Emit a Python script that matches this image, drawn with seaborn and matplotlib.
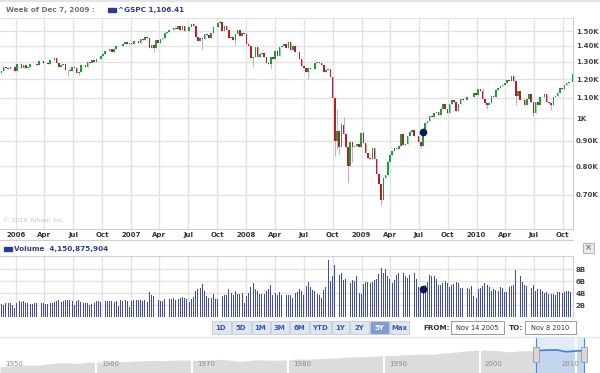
import numpy as np
import pandas as pd
import matplotlib
matplotlib.use("Agg")
import matplotlib.pyplot as plt
import matplotlib.dates as mdates
from matplotlib.patches import Rectangle
from matplotlib.ticker import FixedLocator, NullLocator, FixedFormatter
import seaborn as sns

sns.set_style("white")
plt.rcParams['font.family'] = ['DejaVu Sans']

# weekly closes of ^GSPC, week of Nov 14 2005 .. week of Nov 8 2010
close_2005 = [1248, 1268, 1265, 1259, 1267, 1268, 1248]
close_2006 = [1285, 1288, 1261, 1284, 1264, 1267, 1287, 1289, 1287, 1281, 1307, 1303, 1295,
              1296, 1289, 1311, 1311, 1326, 1291, 1267, 1280, 1288, 1252, 1252, 1245, 1270,
              1265, 1236, 1240, 1279, 1279, 1267, 1302, 1295, 1311, 1299, 1320, 1315, 1336,
              1350, 1366, 1369, 1377, 1364, 1381, 1401, 1401, 1397, 1410, 1427, 1411, 1418]
close_2007 = [1410, 1431, 1431, 1422, 1448, 1438, 1456, 1451, 1387, 1403, 1387, 1436, 1421,
              1444, 1453, 1484, 1494, 1506, 1506, 1523, 1516, 1536, 1508, 1533, 1503, 1503,
              1530, 1553, 1534, 1459, 1433, 1454, 1446, 1479, 1474, 1454, 1484, 1526, 1527,
              1558, 1562, 1501, 1535, 1510, 1454, 1459, 1441, 1481, 1505, 1468, 1484, 1478, 1412]
close_2008 = [1401, 1325, 1331, 1395, 1331, 1350, 1353, 1331, 1293, 1288, 1330, 1315, 1370,
              1333, 1390, 1398, 1414, 1388, 1425, 1376, 1400, 1361, 1360, 1318, 1278, 1263,
              1239, 1261, 1258, 1260, 1296, 1298, 1292, 1283, 1242, 1252, 1255, 1213, 1099,
              899, 941, 877, 969, 931, 873, 800, 896, 876, 880, 888, 873, 932]
close_2009 = [890, 850, 832, 826, 869, 827, 770, 735, 683, 757, 769, 816, 843,
              857, 870, 866, 878, 929, 883, 887, 919, 940, 946, 921, 919, 896,
              879, 940, 979, 987, 1010, 1004, 1026, 1029, 1016, 1043, 1068, 1044, 1025,
              1071, 1088, 1080, 1036, 1069, 1093, 1091, 1091, 1106, 1106, 1102, 1126, 1115]
close_2010 = [1145, 1136, 1092, 1074, 1066, 1076, 1109, 1104, 1139, 1150, 1160, 1167, 1178,
              1194, 1192, 1217, 1187, 1111, 1136, 1088, 1089, 1065, 1092, 1118, 1077, 1023,
              1078, 1065, 1103, 1102, 1122, 1079, 1072, 1065, 1105, 1110, 1126, 1149, 1146,
              1165, 1176, 1183, 1183, 1226, 1223]
first_open = 1235

# average daily volume per week, billions
vol_2005 = [2.2, 2.0, 2.4, 2.3, 2.4, 2.0, 1.5]
vol_2006 = [2.3, 2.6, 2.5, 2.6, 2.4, 2.3, 2.2, 2.2, 2.4, 2.3, 2.5, 2.4, 2.3,
            2.2, 2.1, 2.4, 2.4, 2.5, 2.7, 2.8, 2.5, 2.6, 2.8, 2.9, 2.8, 2.6,
            2.0, 2.6, 2.8, 2.5, 2.4, 2.3, 2.3, 2.0, 2.1, 2.3, 2.6, 2.6, 2.5,
            2.6, 2.6, 2.7, 2.6, 2.6, 2.5, 2.7, 1.8, 2.8, 2.7, 2.9, 2.6, 1.6]
vol_2007 = [2.6, 2.9, 2.8, 2.8, 2.9, 2.7, 2.8, 2.5, 4.1, 3.7, 3.5, 3.3, 2.8,
            2.6, 2.7, 3.0, 3.0, 3.0, 3.0, 3.1, 2.9, 3.0, 3.2, 3.3, 3.1, 3.0,
            2.5, 3.0, 3.3, 4.4, 4.7, 4.9, 5.5, 4.3, 3.5, 3.1, 3.2, 3.8, 3.0,
            3.0, 2.9, 3.5, 3.6, 3.7, 4.6, 4.0, 3.6, 4.4, 3.8, 3.8, 4.0, 2.4, 3.5]
vol_2008 = [4.0, 5.0, 5.6, 4.6, 4.3, 3.9, 3.8, 3.8, 4.4, 4.7, 5.4, 3.7, 4.0,
            3.7, 4.1, 3.6, 3.8, 3.6, 3.6, 3.7, 3.1, 4.0, 4.2, 4.6, 4.3, 3.6,
            5.1, 5.8, 5.0, 4.5, 4.4, 3.9, 3.7, 3.2, 4.5, 5.0, 9.5, 6.0, 6.8,
            8.6, 7.5, 7.0, 7.4, 6.2, 6.4, 7.5, 5.6, 6.2, 6.0, 6.9, 4.0, 3.8]
vol_2009 = [5.5, 5.8, 5.9, 5.6, 5.8, 6.1, 6.3, 7.2, 8.2, 7.4, 8.0, 6.8, 6.4,
            5.6, 6.2, 7.0, 7.3, 8.0, 7.3, 6.8, 6.5, 7.0, 6.5, 7.3, 6.4, 5.0,
            4.9, 4.7, 5.3, 5.8, 7.0, 6.8, 6.9, 6.4, 5.4, 5.3, 5.6, 6.0, 5.6,
            5.0, 5.3, 5.5, 5.9, 5.6, 4.8, 4.9, 3.7, 4.8, 4.7, 5.2, 3.5, 3.2]
vol_2010 = [4.6, 4.9, 5.2, 5.6, 5.4, 5.0, 4.4, 4.6, 4.5, 4.3, 5.0, 4.8, 4.2,
            4.1, 5.0, 5.2, 5.4, 7.8, 6.4, 6.8, 5.8, 5.3, 5.2, 4.6, 4.9, 5.3,
            4.3, 4.7, 4.7, 4.3, 4.0, 4.1, 3.9, 3.9, 3.8, 3.6, 4.1, 4.2, 4.0,
            4.1, 4.3, 4.3, 4.2, 4.7, 4.2]

# intraday extremes for the weeks with long wicks
extreme_low = {"2006-06-12": 1219, "2006-07-17": 1225, "2007-03-12": 1364,
               "2007-08-13": 1371, "2007-11-26": 1406, "2008-01-21": 1271,
               "2008-03-17": 1257, "2008-07-14": 1200, "2008-10-06": 840,
               "2008-10-13": 866, "2008-10-20": 845, "2008-11-17": 741,
               "2008-12-01": 815, "2009-03-02": 667, "2009-07-06": 869,
               "2010-02-01": 1044, "2010-05-03": 1065, "2010-06-28": 1011,
               "2010-08-23": 1040}
extreme_high = {"2007-07-16": 1555, "2007-10-08": 1576, "2008-10-13": 1044,
                "2008-10-27": 984, "2008-11-03": 1007, "2009-01-05": 943,
                "2010-01-18": 1150, "2010-04-26": 1220}

price_ticks = [700, 800, 900, 1000, 1100, 1200, 1300, 1400, 1500]
price_labels = ["0.70K", "0.80K", "0.90K", "1K", "1.10K", "1.20K", "1.30K", "1.40K", "1.50K"]
vol_ticks = [2, 4, 6, 8]
vol_labels = ["2B", "4B", "6B", "8B"]
quarter_labels = ["2006", "Apr", "Jul", "Oct", "2007", "Apr", "Jul", "Oct",
                  "2008", "Apr", "Jul", "Oct", "2009", "Apr", "Jul", "Oct",
                  "2010", "Apr", "Jul", "Oct"]

# long-range navigator: S&P 500 level at the start of each year
nav_years = list(range(1950, 2011)) + [2010.86]
nav_level = [16.8, 20.4, 23.8, 26.6, 24.8, 36.0, 45.5, 46.7, 40.0, 55.2,
             59.9, 58.1, 71.6, 63.1, 75.0, 84.8, 92.4, 80.3, 96.5, 103.9,
             92.1, 92.2, 102.1, 118.1, 97.6, 68.6, 90.2, 107.5, 95.1, 96.1,
             107.9, 135.8, 122.6, 140.6, 164.9, 167.2, 211.3, 242.2, 247.1, 277.7,
             353.4, 330.2, 417.1, 435.7, 466.5, 459.3, 615.9, 740.7, 970.4, 1229.2,
             1469.3, 1320.3, 1148.1, 879.8, 1111.9, 1211.9, 1248.3, 1418.3, 1468.4, 903.3,
             1115.1, 1223.0]
nav_decades = [1950, 1960, 1970, 1980, 1990, 2000, 2010]
buttons = ["1D", "5D", "1M", "3M", "6M", "YTD", "1Y", "2Y", "5Y", "Max"]

close = close_2005 + close_2006 + close_2007 + close_2008 + close_2009 + close_2010
volume = vol_2005 + vol_2006 + vol_2007 + vol_2008 + vol_2009 + vol_2010
weeks = pd.date_range("2005-11-14", periods=len(close), freq="7D")

df = pd.DataFrame({"week": weeks, "close": close, "volume": volume})
df["open"] = [first_open] + close[:-1]
df["x"] = mdates.date2num(df["week"] + pd.Timedelta(days=2))
df["body_lo"] = df[["open", "close"]].min(axis=1)
df["body_hi"] = df[["open", "close"]].max(axis=1)
df["low"] = df["body_lo"]
df["high"] = df["body_hi"]
for d, v in extreme_low.items():
    df.loc[df["week"] == pd.Timestamp(d), "low"] = v
for d, v in extreme_high.items():
    df.loc[df["week"] == pd.Timestamp(d), "high"] = v
df["up"] = df["close"] >= df["open"]

W, H = 600, 373
fig = plt.figure(figsize=(6, 3.73), dpi=100)


def px_axes(x0, y0, x1, y1):
    return fig.add_axes([x0 / W, 1 - y1 / H, (x1 - x0) / W, (y1 - y0) / H])


grid_c = "#e2e2e2"
frame_c = "#cfcfcf"
xlim = (mdates.date2num(pd.Timestamp("2005-11-11 08:00")),
        mdates.date2num(pd.Timestamp("2010-11-02 12:00")))
quarters = mdates.date2num(pd.date_range("2006-01-01", "2010-10-01", freq="QS"))

# ---- price panel
ax = px_axes(0, 18, 573, 229)
ax.set_yscale("log")
ax.set_ylim(597.6, 1594)
ax.set_xlim(*xlim)
for q in quarters:
    ax.axvline(q, color=grid_c, lw=1, zorder=0)
for t in price_ticks:
    ax.axhline(t, color=grid_c, lw=1, zorder=0)
up = df[df["up"]]
dn = df[~df["up"]]
ax.vlines(up["x"], up["low"], up["high"], color="#8fd3a2", lw=0.7, zorder=2)
ax.vlines(dn["x"], dn["low"], dn["high"], color="#e6a0ab", lw=0.7, zorder=2)
ax.bar(up["x"], up["body_hi"] - up["body_lo"], bottom=up["body_lo"], width=5.0,
       color="#11a23e", lw=0, zorder=3)
ax.bar(dn["x"], dn["body_hi"] - dn["body_lo"], bottom=dn["body_lo"], width=5.0,
       color="#c3172f", lw=0, zorder=3)
hover = df[df["week"] == pd.Timestamp("2009-07-13")]
ax.plot(hover["x"], hover["close"], "o", color="#0b1850", ms=4.5, zorder=5)
ax.yaxis.tick_right()
ax.yaxis.set_major_locator(FixedLocator(price_ticks))
ax.yaxis.set_major_formatter(FixedFormatter(price_labels))
ax.yaxis.set_minor_locator(NullLocator())
ax.set_xticks(quarters)
ax.set_xticklabels(quarter_labels)
ax.tick_params(axis="y", length=0, pad=2, labelsize=5, labelcolor="#444444")
ax.tick_params(axis="x", length=0, pad=2.2, labelsize=5, labelcolor="#333333")
for lab in ax.get_yticklabels() + ax.get_xticklabels():
    lab.set_fontweight("bold")
for s in ["left", "top"]:
    ax.spines[s].set_visible(False)
for s in ["right", "bottom"]:
    ax.spines[s].set_color(frame_c)
    ax.spines[s].set_linewidth(0.8)
ax.axhline(1594, color=grid_c, lw=1.5)
ax.text(0.006, 0.035, "\u00a9 2010 Yahoo! Inc.", transform=ax.transAxes,
        fontsize=4.6, color="#c4c4c4")

# ---- volume panel
vax = px_axes(0, 256, 573, 317)
vax.set_xlim(*xlim)
vax.set_ylim(0, 10.17)
for q in quarters:
    vax.axvline(q, color=grid_c, lw=1, zorder=0)
for t in vol_ticks:
    vax.axhline(t, color=grid_c, lw=1, zorder=0)
vax.bar(df["x"], df["volume"], width=3.0, color="#3e4ea6", lw=0, zorder=3)
vax.plot(hover["x"], hover["volume"], "o", color="#0b1850", ms=4.5, zorder=5)
vax.yaxis.tick_right()
vax.set_yticks(vol_ticks)
vax.set_yticklabels(vol_labels)
vax.set_xticks([])
vax.tick_params(axis="y", length=0, pad=2, labelsize=5, labelcolor="#444444")
for lab in vax.get_yticklabels():
    lab.set_fontweight("bold")
for s in ["left", "bottom"]:
    vax.spines[s].set_visible(False)
for s in ["right", "top"]:
    vax.spines[s].set_color(frame_c)
    vax.spines[s].set_linewidth(0.8)

# ---- navigator (log scale, 1950 at the left edge)
nav = px_axes(0, 338, 600, 373)
nav.set_xlim(1950, 1950 + 600 / 9.6)
nav.set_yscale("log")
nav.set_ylim(3.1, 36000)
nav.fill_between(nav_years, nav_level, 3.1, color="#dcdcdc", lw=0)
for d in nav_decades[1:]:
    nav.axvline(d, color="white", lw=1.6)
for d in nav_decades[:-1]:
    nav.text(d + 0.5, 0.2, str(d), transform=nav.get_xaxis_transform(),
             fontsize=5, color="#8c8c8c")
nav.text(2010.4, 0.2, "2010", transform=nav.get_xaxis_transform(),
         fontsize=5, color="#8c8c8c", ha="right")
sel = [x for x in nav_years if x >= 2006]
sel_y = nav_level[-len(sel):]
nav.axvspan(2005.87, 2010.86, color="#e2ecf8", lw=0)
nav.fill_between([2005.87] + sel, [1248.3] + sel_y, 3.1, color="#c4d6ed", lw=0)
sns.lineplot(x=[2005.87] + sel, y=[1248.3] + sel_y, ax=nav,
             color="#3f7fcf", lw=1.2)
nav.axvline(2005.87, color="#3a8ee6", lw=0.8)
nav.axvline(2010.86, color="#3a8ee6", lw=0.8)
nav.set_xticks([])
nav.set_yticks([])
nav.set_xlabel("")
nav.set_ylabel("")
for s in nav.spines.values():
    s.set_visible(False)

# ---- page furniture in pixel coordinates
ov = fig.add_axes([0, 0, 1, 1])
ov.set_xlim(0, W)
ov.set_ylim(H, 0)
ov.axis("off")
ov.plot([0, W], [1, 1], color="#e4e4e4", lw=1.5)
ov.plot([0, 573], [240, 240], color=frame_c, lw=0.8)
ov.plot([0, W], [337, 337], color="#e6e6e6", lw=1)
ov.text(6, 10, "Week of Dec 7, 2009 :", fontsize=5.2, fontweight="bold",
        color="#707070", va="center")
ov.add_patch(Rectangle((108, 8.3), 8, 3.5, color="#2a3c96"))
ov.text(118, 10, "^GSPC 1,106.41", fontsize=5.2, fontweight="bold",
        color="#2a3c96", va="center")
ov.add_patch(Rectangle((4, 247), 8, 3.5, color="#2a3c96"))
ov.text(14, 249, "Volume  4,150,875,904", fontsize=5.2, fontweight="bold",
        color="#2a3c96", va="center")
ov.add_patch(Rectangle((583, 242.5), 11, 10, facecolor="#e8e8e8",
                       edgecolor="#a8a8a8", lw=0.6))
ov.text(588.5, 248, "\u00d7", fontsize=6, color="#555555", ha="center", va="center")

edges = [211, 231, 251, 270, 289, 309, 331, 349, 369, 389, 409]
for i, b in enumerate(buttons):
    sel_b = b == "5Y"
    ov.add_patch(Rectangle((edges[i] + 0.5, 321), edges[i + 1] - edges[i] - 1, 13,
                           facecolor="#7f9bd3" if sel_b else "#dfe6f0",
                           edgecolor="#c3cbd9", lw=0.6))
    ov.text((edges[i] + edges[i + 1]) / 2, 327.5, b, fontsize=5, fontweight="bold",
            color="white" if sel_b else "#3b5aa5", ha="center", va="center")
ov.text(423, 327.5, "FROM:", fontsize=5.2, fontweight="bold", color="#333333", va="center")
ov.add_patch(Rectangle((451, 321), 53, 13, facecolor="white", edgecolor="#9a9a9a", lw=0.7))
ov.text(477.5, 327.5, "Nov 14 2005", fontsize=4.8, color="#333333", ha="center", va="center")
ov.text(509, 327.5, "TO:", fontsize=5.2, fontweight="bold", color="#333333", va="center")
ov.add_patch(Rectangle((525, 321), 51, 13, facecolor="white", edgecolor="#9a9a9a", lw=0.7))
ov.text(550.5, 327.5, "Nov 8 2010", fontsize=4.8, color="#333333", ha="center", va="center")
for hx in [536, 584]:
    ov.add_patch(Rectangle((hx - 3, 347), 6, 15, facecolor="#d8d8d8",
                           edgecolor="#9a9a9a", lw=0.6))

fig.savefig("out.png", dpi=100)
